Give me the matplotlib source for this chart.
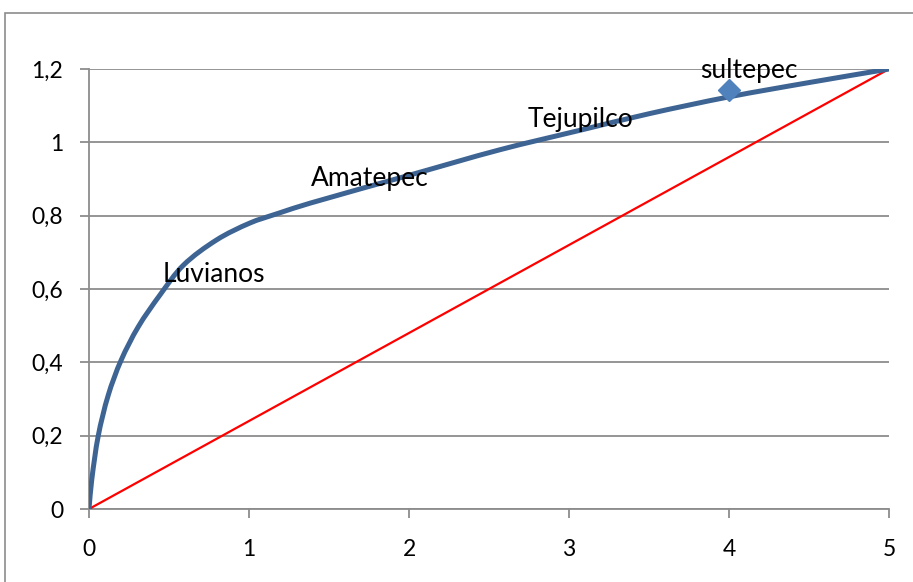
import numpy as np
import matplotlib.pyplot as plt
from matplotlib.path import Path
from matplotlib.patches import PathPatch, Rectangle

# curve values (x, y)
curve_x = [0, 0.017, 0.058, 0.12, 0.2, 0.308, 0.444, 0.59, 0.798, 1.006,
           1.173, 1.381, 2.0, 2.57, 3.07, 3.5, 4.0, 4.5, 5.0]
curve_y = [0, 0.079, 0.2, 0.31, 0.405, 0.497, 0.584, 0.665, 0.734, 0.78,
           0.805, 0.834, 0.91, 0.98, 1.033, 1.078, 1.124, 1.163, 1.2]

# equality line
diag_x = [0, 5]
diag_y = [0, 1.2]

# single marked point
marker_x = [4.0]
marker_y = [1.143]

# point labels (left/baseline anchor, data units)
label_names = ['Luvianos', 'Amatepec', 'Tejupilco', 'sultepec']
label_x = [0.46, 1.39, 2.74, 3.82]
label_y = [0.619, 0.881, 1.043, 1.175]

x_ticks = [0, 1, 2, 3, 4, 5]
y_ticks = [0, 0.2, 0.4, 0.6, 0.8, 1.0, 1.2]
y_ticklabels = ['0', '0,2', '0,4', '0,6', '0,8', '1', '1,2']

plt.rcParams['font.family'] = ['Lato', 'DejaVu Sans']
grey = '#8c8c8c'

W, H = 913, 582
fig = plt.figure(figsize=(W / 100, H / 100), dpi=100)
ax = fig.add_axes([89 / W, 73 / H, 800 / W, 440 / H])

# outer chart border (cut by the image edges on right/bottom)
fig.patches.append(Rectangle((5 / W, -0.1), 1.2, 1 - 13 / H + 0.1,
                             transform=fig.transFigure, fill=False,
                             edgecolor=grey, linewidth=1.2, clip_on=False))

ax.set_xlim(0, 5)
ax.set_ylim(0, 1.2)
ax.set_xticks(x_ticks)
ax.set_xticklabels([str(t) for t in x_ticks])
ax.set_yticks(y_ticks)
ax.set_yticklabels(y_ticklabels)
ax.yaxis.grid(True, color=grey, linewidth=1.3)
ax.set_axisbelow(True)
for s in ['top', 'right']:
    ax.spines[s].set_visible(False)
for s in ['left', 'bottom']:
    ax.spines[s].set_color(grey)
    ax.spines[s].set_linewidth(1.3)
ax.tick_params(axis='both', direction='out', length=6.5, width=1.3,
               color=grey, labelsize=16.5, labelcolor='black')
ax.tick_params(axis='y', pad=12)
ax.tick_params(axis='x', pad=15)

# red equality line
ax.plot(diag_x, diag_y, color='#ff0000', linewidth=1.6, zorder=3)

# smoothed curve: chord-length Catmull-Rom bezier in screen-scaled space
sx, sy = 160.0, 366.7
P = np.column_stack([np.array(curve_x) * sx, np.array(curve_y) * sy])
t = np.concatenate([[0], np.cumsum(np.hypot(*np.diff(P, axis=0).T))])
n = len(P)
tang = np.zeros_like(P)
for i in range(n):
    a, b = max(i - 1, 0), min(i + 1, n - 1)
    tang[i] = (P[b] - P[a]) / (t[b] - t[a])
verts = [tuple(P[0])]
codes = [Path.MOVETO]
for i in range(n - 1):
    h = t[i + 1] - t[i]
    verts += [tuple(P[i] + tang[i] * h / 3), tuple(P[i + 1] - tang[i + 1] * h / 3),
              tuple(P[i + 1])]
    codes += [Path.CURVE4] * 3
verts = [(vx / sx, vy / sy) for vx, vy in verts]
ax.add_patch(PathPatch(Path(verts, codes), facecolor='none',
                       edgecolor='#3d6493', linewidth=3.6,
                       capstyle='round', zorder=4))

ax.plot(marker_x, marker_y, linestyle='none', marker='D', markersize=11,
        color='#4f81bd', zorder=5)

for name, lx, ly in zip(label_names, label_x, label_y):
    ax.text(lx, ly, name, fontsize=19, ha='left', va='baseline',
            color='black', zorder=6)

fig.savefig('out.png', dpi=100)
